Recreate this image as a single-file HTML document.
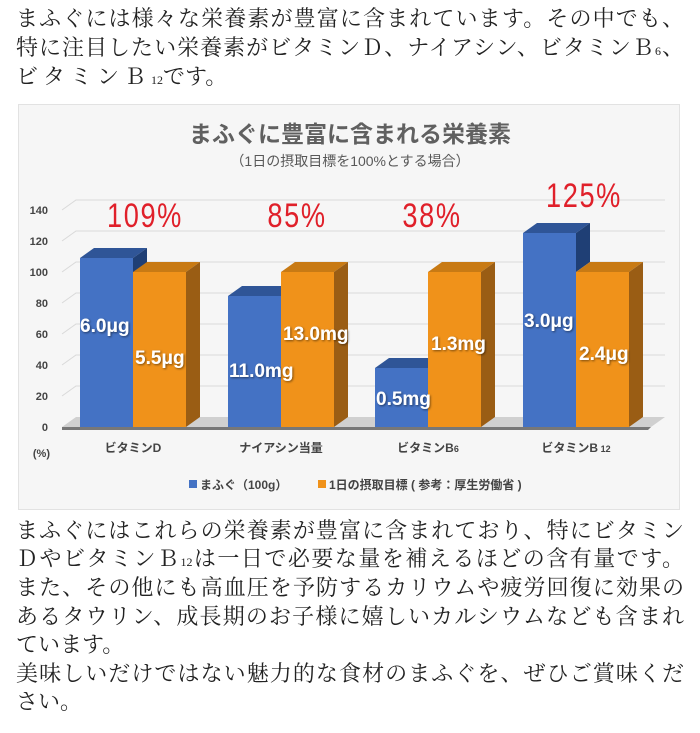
<!DOCTYPE html>
<html><head><meta charset="utf-8"><style>
body{margin:0;width:700px;height:733px;background:#fff;position:relative;overflow:hidden;font-family:"Liberation Serif","Noto Serif CJK SC",serif;color:#222}
.l{position:absolute;left:16px;width:668px;font-size:22px;line-height:28px;white-space:nowrap}
.j{text-align-last:justify;text-align:justify}
sub{font-size:12px;vertical-align:baseline}
</style></head><body>
<div class="l j" style="top:5px">まふぐには様々な栄養素が豊富に含まれています。その中でも、</div>
<div class="l j" style="top:34px">特に注目したい栄養素がビタミンＤ、ナイアシン、ビタミンＢ<sub>6</sub>、</div>
<div class="l" style="top:63px"><span style="letter-spacing:5px">ビタミンＢ</span><sub>12</sub>です。</div>

<svg style="position:absolute;left:0;top:0" width="700" height="733" font-family="'Liberation Sans','Noto Sans CJK JP',sans-serif">
<defs><filter id="sh"><feDropShadow dx="1" dy="1" stdDeviation="1" flood-color="#000" flood-opacity="0.5"/></filter></defs>
<rect x="18.5" y="104.5" width="661" height="405" fill="#f6f6f6" stroke="#e2e2e2"/>
<text x="350" y="142" text-anchor="middle" font-size="23" font-weight="bold" fill="#606060">まふぐに豊富に含まれる栄養素</text>
<text x="350" y="166" text-anchor="middle" font-size="14" fill="#585858">（1日の摂取目標を100%とする場合）</text>
<g stroke="#d9d9d9" stroke-width="1" fill="none">
<path d="M62 396 L76 386 L665 386"/>
<path d="M62 365 L76 355 L665 355"/>
<path d="M62 334 L76 324 L665 324"/>
<path d="M62 303 L76 293 L665 293"/>
<path d="M62 272 L76 262 L665 262"/>
<path d="M62 241 L76 231 L665 231"/>
<path d="M62 210 L76 200 L665 200"/>
</g>
<path d="M62 427 L76 417 L665 417 L651 427 Z" fill="#d0d0d0"/>
<path d="M62 427 L651 427 L648 430 L62 430Z" fill="#777"/>
<g font-size="11" font-weight="bold" fill="#444" text-anchor="end">
<text x="48" y="431">0</text><text x="48" y="400">20</text><text x="48" y="369">40</text><text x="48" y="338">60</text><text x="48" y="307">80</text><text x="48" y="276">100</text><text x="48" y="245">120</text><text x="48" y="214">140</text>
<text x="50" y="457">(%)</text>
</g>
<g>
<polygon points="80,258 94,248 147,248 133,258" fill="#2f5597"/><polygon points="133,258 147,248 147,417 133,427" fill="#1f3f75"/><rect x="80" y="258" width="53" height="169" fill="#4472c4"/>
<polygon points="133,272 147,262 200,262 186,272" fill="#c87a14"/><polygon points="186,272 200,262 200,417 186,427" fill="#9a5d14"/><rect x="133" y="272" width="53" height="155" fill="#f0921a"/>
<polygon points="228,296 242,286 295,286 281,296" fill="#2f5597"/><rect x="228" y="296" width="53" height="131" fill="#4472c4"/>
<polygon points="281,272 295,262 348,262 334,272" fill="#c87a14"/><polygon points="334,272 348,262 348,417 334,427" fill="#9a5d14"/><rect x="281" y="272" width="53" height="155" fill="#f0921a"/>
<polygon points="375,368 389,358 442,358 428,368" fill="#2f5597"/><rect x="375" y="368" width="53" height="59" fill="#4472c4"/>
<polygon points="428,272 442,262 495,262 481,272" fill="#c87a14"/><polygon points="481,272 495,262 495,417 481,427" fill="#9a5d14"/><rect x="428" y="272" width="53" height="155" fill="#f0921a"/>
<polygon points="523,233 537,223 590,223 576,233" fill="#2f5597"/><polygon points="576,233 590,223 590,262 576,272" fill="#1f3f75"/><rect x="523" y="233" width="53" height="194" fill="#4472c4"/>
<polygon points="576,272 590,262 643,262 629,272" fill="#c87a14"/><polygon points="629,272 643,262 643,417 629,427" fill="#9a5d14"/><rect x="576" y="272" width="53" height="155" fill="#f0921a"/>
</g>
<g font-size="19" font-weight="bold" fill="#fff" filter="url(#sh)">
<text x="80" y="332">6.0μg</text><text x="135" y="364">5.5μg</text>
<text x="229" y="377">11.0mg</text><text x="283" y="340">13.0mg</text>
<text x="376" y="405">0.5mg</text><text x="431" y="350">1.3mg</text>
<text x="524" y="327">3.0μg</text><text x="579" y="360">2.4μg</text>
</g>
<g font-size="34" fill="#e0202a" text-anchor="middle" letter-spacing="2">
<text x="145" y="227" transform="translate(145 0) scale(0.8 1) translate(-145 0)">109%</text>
<text x="297" y="227" transform="translate(297 0) scale(0.8 1) translate(-297 0)">85%</text>
<text x="432" y="227" transform="translate(432 0) scale(0.8 1) translate(-432 0)">38%</text>
<text x="584" y="207" transform="translate(584 0) scale(0.8 1) translate(-584 0)">125%</text>
</g>
<g font-size="12" font-weight="bold" fill="#444" text-anchor="middle">
<text x="133" y="452">ビタミンD</text>
<text x="281" y="452">ナイアシン当量</text>
<text x="428" y="452">ビタミンB<tspan font-size="9">6</tspan></text>
<text x="576" y="452">ビタミンB<tspan font-size="9"> 12</tspan></text>
</g>
<g font-size="12" font-weight="bold" fill="#444">
<rect x="189" y="480" width="8" height="8" fill="#4472c4"/><text x="200" y="489">まふぐ（100g）</text>
<rect x="318" y="480" width="8" height="8" fill="#f0921a"/><text x="329" y="489">1日の摂取目標 ( 参考：厚生労働省 )</text>
</g>
</svg>

<div class="l j" style="top:517px">まふぐにはこれらの栄養素が豊富に含まれており、特にビタミン</div>
<div class="l j" style="top:545px">ＤやビタミンＢ<sub>12</sub>は一日で必要な量を補えるほどの含有量です。</div>
<div class="l j" style="top:574px">また、その他にも高血圧を予防するカリウムや疲労回復に効果の</div>
<div class="l j" style="top:603px">あるタウリン、成長期のお子様に嬉しいカルシウムなども含まれ</div>
<div class="l" style="top:631px">ています。</div>
<div class="l j" style="top:660px">美味しいだけではない魅力的な食材のまふぐを、ぜひご賞味くだ</div>
<div class="l" style="top:688px">さい。</div>
</body></html>
